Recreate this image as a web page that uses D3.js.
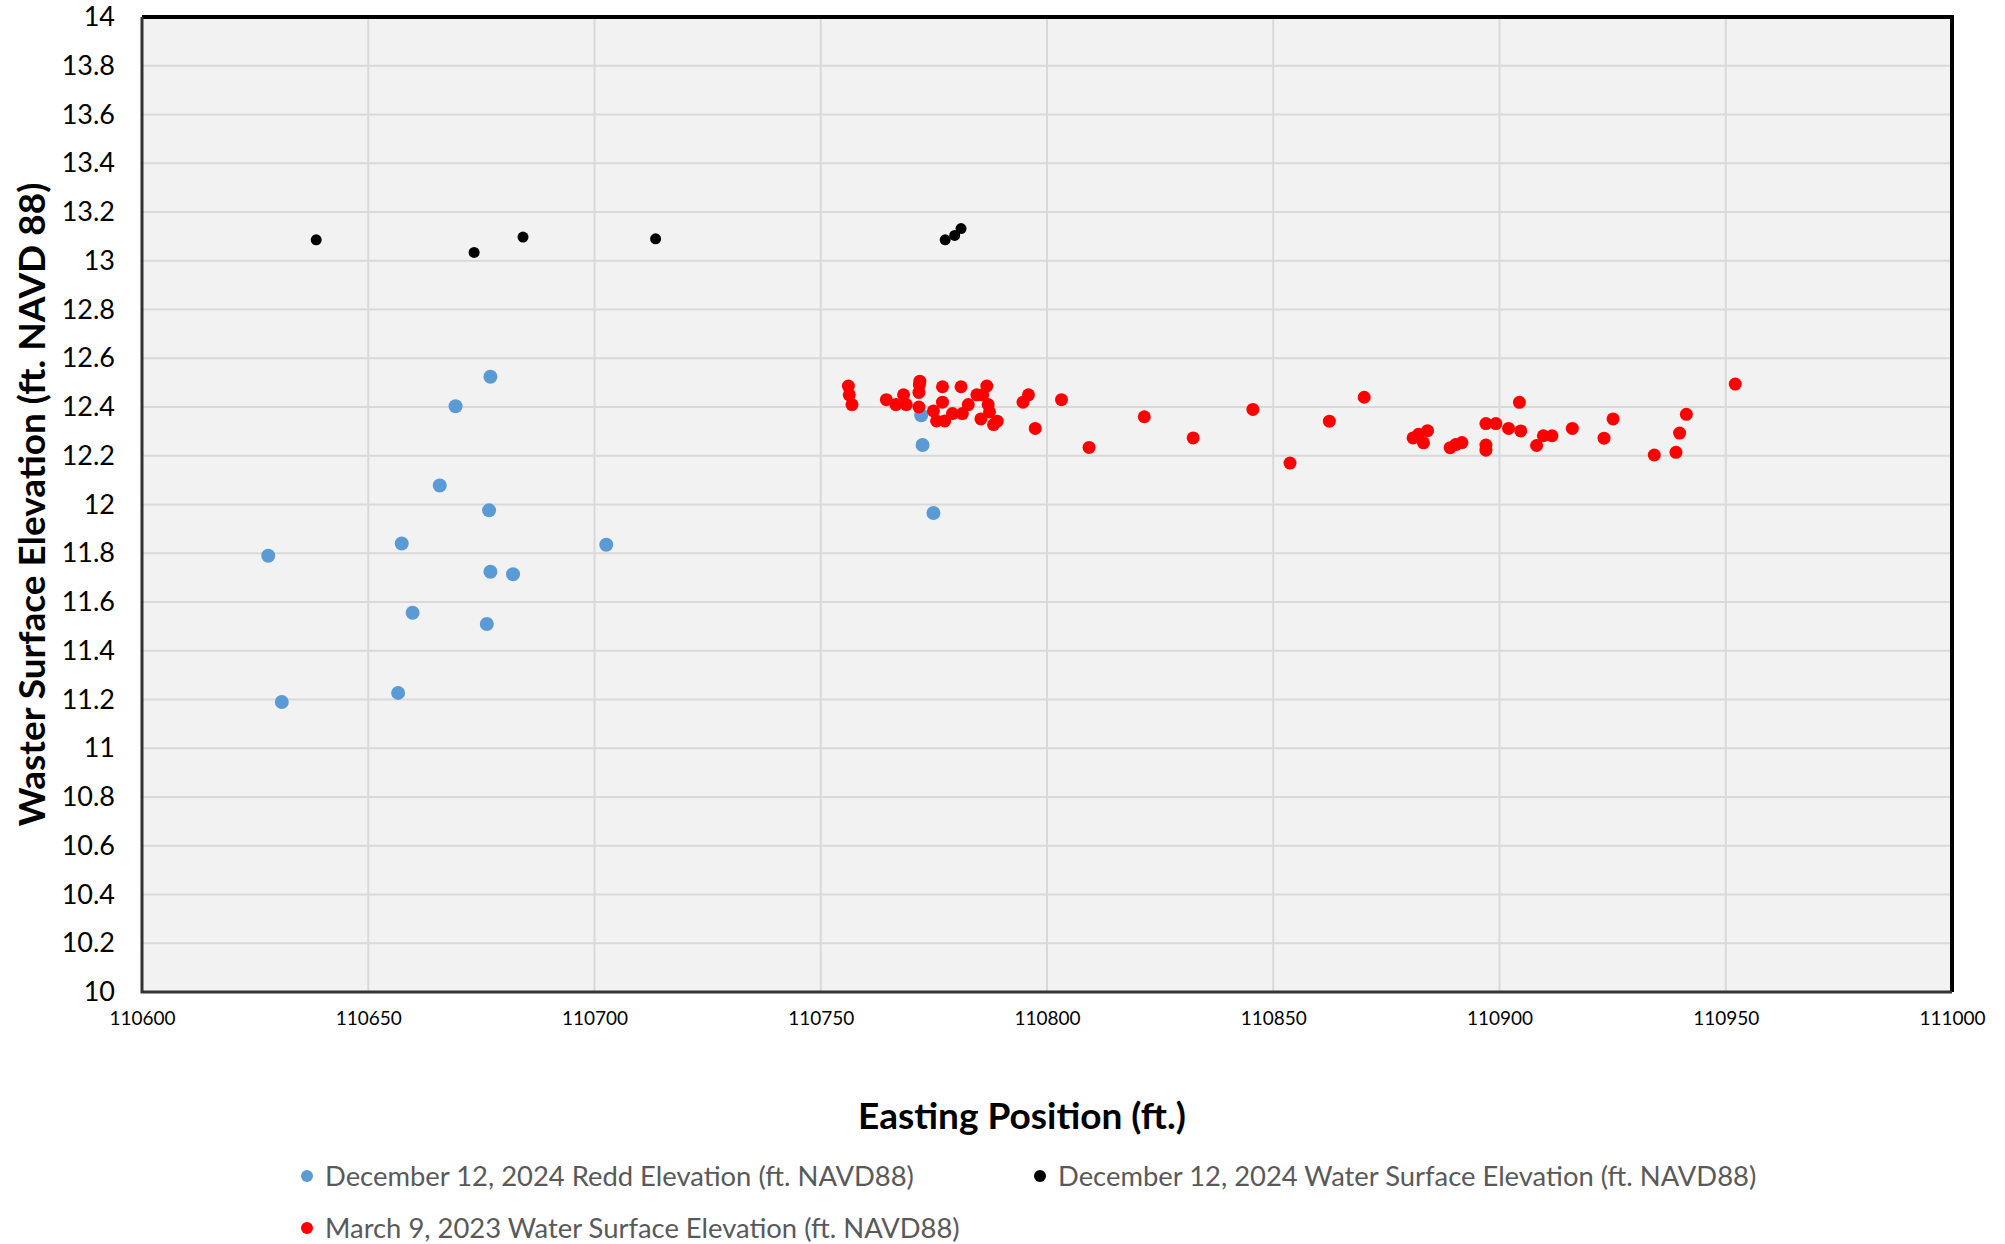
<!DOCTYPE html>
<html>
<head>
<meta charset="utf-8">
<script src="https://cdn.jsdelivr.net/npm/d3@7"></script>
<style>
  body { margin: 0; background: #fff; }
  svg text { font-family: Lato, "Open Sans", sans-serif; }
</style>
</head>
<body>
<div id="container"></div>
<script>
// December 12, 2024 redd elevations
var reddX = [110627.9, 110630.9, 110656.6, 110657.4, 110659.8, 110665.8, 110669.3, 110676.7, 110677, 110682, 110676.2, 110702.6, 110677, 110772.2, 110772.5, 110774.9];
var reddY = [11.79, 11.19, 11.227, 11.84, 11.556, 12.078, 12.403, 11.976, 11.724, 11.714, 11.51, 11.835, 12.524, 12.366, 12.244, 11.965];

// December 12, 2024 water surface
var wse24X = [110638.5, 110673.4, 110684.2, 110713.5, 110777.5, 110779.6, 110781];
var wse24Y = [13.086, 13.034, 13.097, 13.09, 13.086, 13.104, 13.132];

// March 9, 2023 water surface
var wse23X = [110756.1, 110756.3, 110756.9, 110764.5, 110766.6, 110768.3, 110768.9, 110771.9, 110771.8, 110771.7,
  110771.7, 110774.9, 110775.6, 110777.4, 110776.9, 110776.9, 110779.1, 110781, 110781.3, 110782.6,
  110784.5, 110785.8, 110786.7, 110787, 110787.3, 110785.4, 110788.2, 110789, 110794.7, 110795.9,
  110797.4, 110803.2, 110809.3, 110821.5, 110832.3, 110845.5, 110853.7, 110862.4, 110870.1, 110880.9,
  110882.1, 110884.1, 110883.2, 110889.1, 110890.3, 110891.7, 110897, 110897, 110897, 110899.2,
  110902, 110904.7, 110904.4, 110908.2, 110909.7, 110911.6, 110916.1, 110923.1, 110925.1, 110934.2,
  110939, 110939.8, 110941.3, 110952.1];
var wse23Y = [12.486, 12.45, 12.41, 12.43, 12.41, 12.45, 12.41, 12.506, 12.49, 12.46,
  12.40, 12.384, 12.343, 12.343, 12.483, 12.42, 12.373, 12.483, 12.373, 12.41,
  12.45, 12.45, 12.486, 12.41, 12.38, 12.351, 12.328, 12.342, 12.42, 12.45,
  12.312, 12.43, 12.234, 12.36, 12.273, 12.39, 12.17, 12.342, 12.44, 12.273,
  12.288, 12.303, 12.253, 12.233, 12.246, 12.254, 12.332, 12.244, 12.223, 12.332,
  12.312, 12.302, 12.419, 12.242, 12.282, 12.282, 12.312, 12.272, 12.351, 12.203,
  12.214, 12.293, 12.37, 12.494];

var xTicks = [110600, 110650, 110700, 110750, 110800, 110850, 110900, 110950, 111000];
var yTicks = [10, 10.2, 10.4, 10.6, 10.8, 11, 11.2, 11.4, 11.6, 11.8, 12, 12.2, 12.4, 12.6, 12.8, 13, 13.2, 13.4, 13.6, 13.8, 14];

var seriesNames = ["December 12, 2024 Redd Elevation (ft. NAVD88)",
  "December 12, 2024 Water Surface Elevation (ft. NAVD88)",
  "March 9, 2023 Water Surface Elevation (ft. NAVD88)"];
var colors = ["#5b9bd5", "#000000", "#ff0000"];

var width = 2005, height = 1244;
var m = {left: 142, right: 53, top: 17, bottom: 252};

var svg = d3.select("#container").append("svg")
  .attr("width", width).attr("height", height);

var x = d3.scaleLinear().domain([110600, 111000]).range([m.left, width - m.right]);
var y = d3.scaleLinear().domain([10, 14]).range([height - m.bottom, m.top]);

// plot area
svg.append("rect")
  .attr("x", x(110600)).attr("y", y(14))
  .attr("width", x(111000) - x(110600)).attr("height", y(10) - y(14))
  .attr("fill", "#f2f2f2");

// gridlines
svg.append("g").selectAll("line").data(xTicks.slice(1, -1)).enter().append("line")
  .attr("x1", function(d) { return x(d); }).attr("x2", function(d) { return x(d); })
  .attr("y1", y(14)).attr("y2", y(10))
  .attr("stroke", "#d9d9d9").attr("stroke-width", 2);
svg.append("g").selectAll("line").data(yTicks.slice(1, -1)).enter().append("line")
  .attr("x1", x(110600)).attr("x2", x(111000))
  .attr("y1", function(d) { return y(d); }).attr("y2", function(d) { return y(d); })
  .attr("stroke", "#d9d9d9").attr("stroke-width", 2);

// border
svg.append("path")
  .attr("d", "M" + x(110600) + "," + y(14) + "H" + x(111000) + "V" + y(10))
  .attr("fill", "none").attr("stroke", "#000").attr("stroke-width", 4);
svg.append("path")
  .attr("d", "M" + x(110600) + "," + y(14) + "V" + y(10) + "H" + x(111000))
  .attr("fill", "none").attr("stroke", "#333").attr("stroke-width", 3);

// axes
var yAxis = svg.append("g")
  .attr("transform", "translate(" + (x(110600) - 2) + ",0)")
  .call(d3.axisLeft(y).tickValues(yTicks).tickSize(0).tickPadding(25).tickFormat(d3.format("~g")));
yAxis.select(".domain").remove();
yAxis.selectAll("text").attr("font-size", 27).attr("fill", "#000");

var xAxis = svg.append("g")
  .attr("transform", "translate(0," + (y(10) + 2) + ")")
  .call(d3.axisBottom(x).tickValues(xTicks).tickSize(0).tickPadding(18).tickFormat(d3.format("d")));
xAxis.select(".domain").remove();
xAxis.selectAll("text").attr("font-size", 19).attr("fill", "#000");

// titles
svg.append("text")
  .attr("x", 1022).attr("y", 1129)
  .attr("text-anchor", "middle").attr("font-size", 37).attr("font-weight", "bold")
  .text("Easting Position (ft.)");
svg.append("text")
  .attr("transform", "translate(45," + ((y(10) + y(14)) / 2) + ") rotate(-90)")
  .attr("text-anchor", "middle").attr("font-size", 37).attr("font-weight", "bold")
  .text("Waster Surface Elevation (ft. NAVD 88)");

// points
function drawSeries(xs, ys, col, r) {
  svg.append("g").selectAll("circle").data(xs).enter().append("circle")
    .attr("cx", function(d) { return x(d); })
    .attr("cy", function(d, i) { return y(ys[i]); })
    .attr("r", r).attr("fill", col);
}
drawSeries(reddX, reddY, colors[0], 7);
drawSeries(wse24X, wse24Y, colors[1], 5.5);
drawSeries(wse23X, wse23Y, colors[2], 6.5);

// legend
var legPos = [[307, 1176], [1040, 1176], [307, 1228]];
var leg = svg.append("g").selectAll("g").data(seriesNames).enter().append("g")
  .attr("transform", function(d, i) { return "translate(" + legPos[i][0] + "," + legPos[i][1] + ")"; });
leg.append("circle").attr("r", 6).attr("fill", function(d, i) { return colors[i]; });
leg.append("text").attr("x", 18).attr("dy", "0.35em")
  .attr("font-size", 27.4).attr("fill", "#595959")
  .text(function(d) { return d; });
</script>
</body>
</html>
